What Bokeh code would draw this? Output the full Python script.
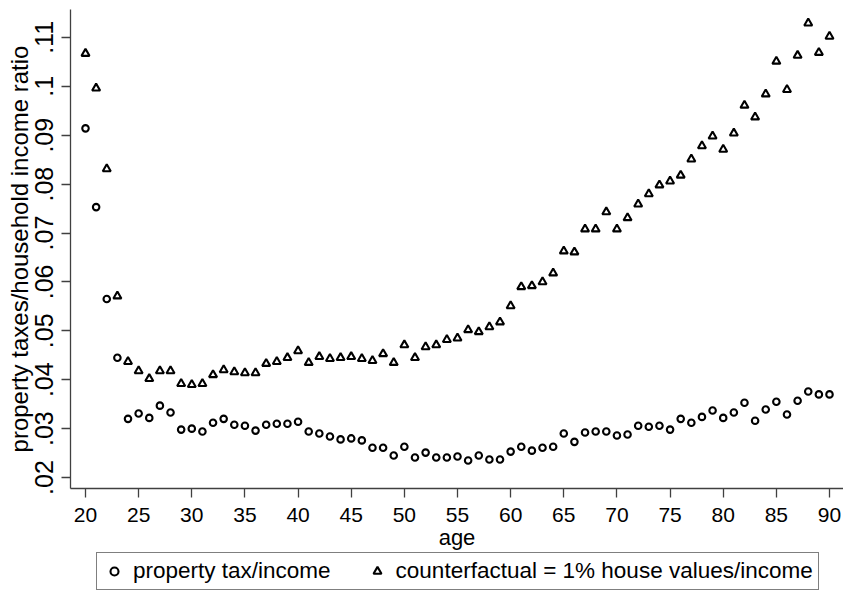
from bokeh.plotting import figure
from bokeh.models import Range1d, FixedTicker, Legend, LegendItem
from bokeh.layouts import column
from bokeh.embed import file_html
from bokeh.resources import INLINE

ages = list(range(20, 91))

property_tax_income = [
    0.0914, 0.0753, 0.0565, 0.0445, 0.0320, 0.0331, 0.0322, 0.0347, 0.0333, 0.0298,
    0.0300, 0.0294, 0.0312, 0.0320, 0.0308, 0.0306, 0.0296, 0.0308, 0.0310, 0.0310,
    0.0314, 0.0294, 0.0290, 0.0284, 0.0278, 0.0280, 0.0276, 0.0261, 0.0261, 0.0245,
    0.0263, 0.0241, 0.0251, 0.0241, 0.0241, 0.0243, 0.0235, 0.0245, 0.0237, 0.0237,
    0.0253, 0.0263, 0.0255, 0.0261, 0.0263, 0.0290, 0.0273, 0.0292, 0.0294, 0.0294,
    0.0286, 0.0288, 0.0306, 0.0304, 0.0306, 0.0298, 0.0320, 0.0312, 0.0324, 0.0337,
    0.0322, 0.0333, 0.0353, 0.0316, 0.0339, 0.0355, 0.0329, 0.0357, 0.0376, 0.0370,
    0.0370,
]

counterfactual = [
    0.1067, 0.0996, 0.0831, 0.0571, 0.0437, 0.0418, 0.0402, 0.0418, 0.0418, 0.0392,
    0.0390, 0.0392, 0.0410, 0.0420, 0.0416, 0.0414, 0.0414, 0.0433, 0.0437, 0.0445,
    0.0459, 0.0435, 0.0447, 0.0443, 0.0445, 0.0447, 0.0443, 0.0439, 0.0453, 0.0435,
    0.0471, 0.0445, 0.0467, 0.0471, 0.0482, 0.0485, 0.0502, 0.0498, 0.0508, 0.0518,
    0.0551, 0.0590, 0.0592, 0.0600, 0.0618, 0.0663, 0.0661, 0.0708, 0.0708, 0.0743,
    0.0708, 0.0731, 0.0759, 0.0780, 0.0798, 0.0806, 0.0818, 0.0851, 0.0878, 0.0898,
    0.0871, 0.0904, 0.0961, 0.0937, 0.0984, 0.1051, 0.0993, 0.1063, 0.1129, 0.1069,
    0.1102,
]

series_labels = ["property tax/income", "counterfactual = 1% house values/income"]
x_ticks = [20, 25, 30, 35, 40, 45, 50, 55, 60, 65, 70, 75, 80, 85, 90]
y_ticks = [0.02, 0.03, 0.04, 0.05, 0.06, 0.07, 0.08, 0.09, 0.10, 0.11]
y_tick_labels = [".02", ".03", ".04", ".05", ".06", ".07", ".08", ".09", ".1", ".11"]

FONT = "Liberation Sans"
AXIS_COLOR = "#404040"
W = 843
H_MAIN = 552
H_LEG = 40

circle_style = dict(marker="circle", size=6.5, fill_color=None, line_color="black", line_width=2.1)
tri_style = dict(marker="triangle", size=8, fill_color=None, line_color="black", line_width=2.1)

p = figure(
    width=W, height=H_MAIN,
    x_range=Range1d(18.589, 91.317), y_range=Range1d(0.01776, 0.1157),
    output_backend="svg", toolbar_location=None,
    min_border_left=70, min_border_right=0, min_border_top=9, min_border_bottom=62,
    background_fill_color="white", border_fill_color="white",
)
p.outline_line_color = None
p.grid.visible = False

p.scatter(ages, property_tax_income, **circle_style)
p.scatter(ages, counterfactual, **tri_style)

xa = p.xaxis[0]
xa.ticker = FixedTicker(ticks=x_ticks)
xa.axis_label = "age"
xa.axis_label_text_font = FONT
xa.axis_label_text_font_style = "normal"
xa.axis_label_text_font_size = "22px"
xa.axis_label_text_color = "black"
xa.axis_label_standoff = 0
xa.major_label_text_font = FONT
xa.major_label_text_font_size = "21px"
xa.major_label_text_color = "black"
xa.major_label_standoff = 10
xa.major_tick_out = 9
xa.major_tick_in = 0
xa.minor_tick_out = 0
xa.minor_tick_in = 0
xa.axis_line_color = AXIS_COLOR
xa.axis_line_width = 1.3
xa.major_tick_line_color = AXIS_COLOR
xa.major_tick_line_width = 1.3

ya = p.yaxis[0]
ya.ticker = FixedTicker(ticks=y_ticks)
ya.major_label_overrides = {t: lab for t, lab in zip(y_ticks, y_tick_labels)}
ya.major_label_orientation = "vertical"
ya.axis_label = "property taxes/household income ratio"
ya.axis_label_text_font = FONT
ya.axis_label_text_font_style = "normal"
ya.axis_label_text_font_size = "24px"
ya.axis_label_text_color = "black"
ya.axis_label_standoff = 0
ya.major_label_text_font = FONT
ya.major_label_text_font_size = "25px"
ya.major_label_text_color = "black"
ya.major_label_standoff = 8
ya.major_tick_out = 9
ya.major_tick_in = 0
ya.minor_tick_out = 0
ya.minor_tick_in = 0
ya.axis_line_color = AXIS_COLOR
ya.axis_line_width = 1.3
ya.major_tick_line_color = AXIS_COLOR
ya.major_tick_line_width = 1.3

# legend strip below the plot (its frame is aligned with the plot's frame);
# the key glyphs use the first point of each series, which lies outside this strip's view
q = figure(
    width=W, height=H_LEG,
    x_range=Range1d(0, 1), y_range=Range1d(0, 1),
    output_backend="svg", toolbar_location=None,
    x_axis_location=None, y_axis_location=None,
    min_border_left=70, min_border_right=0, min_border_top=0, min_border_bottom=0,
    background_fill_color="white", border_fill_color="white",
)
q.outline_line_color = None
q.grid.visible = False
g1 = q.scatter(x=ages[:1], y=property_tax_income[:1], **circle_style)
g2 = q.scatter(x=ages[:1], y=counterfactual[:1], **tri_style)

legend = Legend(
    items=[
        LegendItem(label=series_labels[0], renderers=[g1]),
        LegendItem(label=series_labels[1], renderers=[g2]),
    ],
    orientation="horizontal",
    location=(26, 2),
    padding=5, spacing=34, margin=0,
    glyph_width=24, glyph_height=20, label_standoff=7, label_height=20,
    label_text_font=FONT, label_text_font_size="22.5px", label_text_color="black",
    border_line_color="black", border_line_width=1,
    background_fill_color="white", background_fill_alpha=1.0,
)
q.add_layout(legend, "center")

layout = column(p, q, spacing=0)
open("out.html", "w").write(file_html(layout, INLINE))
